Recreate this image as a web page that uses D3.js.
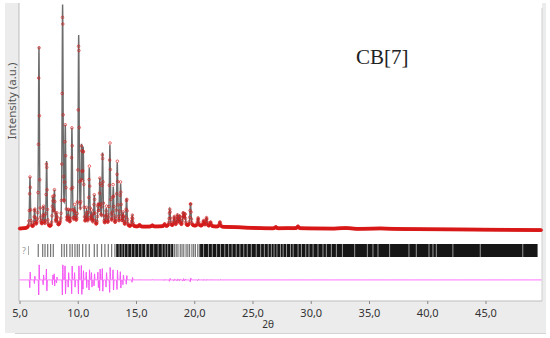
<!DOCTYPE html>
<html>
<head>
<meta charset="utf-8">
<script src="https://cdn.jsdelivr.net/npm/d3@7"></script>
<style>
  body { margin: 0; background: #fff; }
  svg { display: block; }
</style>
</head>
<body>
<svg id="chart" width="550" height="338"></svg>
<script>
// peaks: [2theta, height above background (counts), misfit amplitude for difference curve]
const peaks = [
  [5.9, 2100, 320], [6.3, 740, 150], [6.67, 7460, 620], [7.05, 820, 200],
  [7.33, 2720, -450], [7.85, 1200, 200], [8.0, 1480, -250], [8.2, 500, 120],
  [8.7, 9110, 620], [8.93, 4040, -580], [9.2, 600, 300], [9.5, 4040, 570],
  [9.75, 700, -300], [10.08, 7830, 580], [10.33, 3130, -600], [10.47, 3090, 380],
  [10.75, 600, -320], [10.99, 2390, 420], [11.2, 500, -300], [11.42, 1280, 250],
  [11.75, 800, -320], [11.9, 1900, 450], [12.13, 3010, -470], [12.45, 700, 300],
  [12.76, 3340, 520], [13.05, 1570, -420], [13.39, 2600, 400], [13.68, 1730, -340],
  [13.9, 500, 200], [14.19, 1150, 180], [14.68, 450, 100], [15.3, 80, 10],
  [16.4, 60, 10], [17.45, 100, 20], [17.9, 700, 60], [18.28, 380, 40],
  [18.55, 440, 40], [18.75, 400, 30], [19.05, 520, 50], [19.2, 480, 40],
  [19.68, 950, 80], [20.33, 330, 30], [20.8, 220, 20], [21.05, 350, 20],
  [21.4, 180, 10], [22.2, 200, 10], [27.0, 70, 0], [28.9, 90, 0]
];

// background level (counts) along 2theta
const background = [
  [5, 780], [6, 790], [8, 800], [10, 810], [12, 830], [14, 845], [15, 860],
  [17, 870], [19, 885], [20.5, 890], [21.5, 870], [23, 850], [25, 815], [26, 795],
  [27, 790], [28, 800], [30, 790], [32, 785], [33, 805], [34, 775], [36, 790],
  [38, 765], [40, 755], [44, 745], [47, 735], [49.8, 720]
];

// individual reflection ticks
const braggTicks = [
  6.61, 6.99, 7.19, 7.42, 7.67, 7.9, 8.62, 8.84, 9.05, 9.33, 9.53, 9.76, 9.96,
  10.13, 10.42, 10.7, 10.99, 11.42, 11.67, 12.05, 12.33, 12.62, 12.91, 13.19,
  18.3, 18.45, 18.6, 18.8, 18.95, 19.1, 19.3, 19.45, 19.6, 19.8, 19.95, 20.1,
  20.3, 20.45
];
// dense reflection region, drawn as solid bars
const braggBands = [[13.3, 18.2], [20.5, 49.47]];
const bandGaps = [
  13.55, 13.8, 14.02, 14.3, 14.62, 14.9, 15.22, 15.5, 15.82, 15.86, 16.15, 16.52,
  16.9, 17.25, 17.5, 17.72, 17.98,
  20.8, 21.22, 21.55, 21.92, 22.25, 22.62, 22.95, 23.25, 23.6, 23.92, 24.25,
  24.55, 24.9, 25.32, 25.7, 26.02, 26.35, 26.62, 26.85,
  27.1, 27.4, 27.63, 27.92, 28.26, 28.49, 28.91, 29.2, 29.57, 29.85, 30.2,
  30.62, 31.05, 31.34, 31.77, 32.2, 32.72, 33.77, 34.86, 35.34, 35.77, 36.77,
  38.43, 39.06, 40.15, 40.49, 40.78, 42.2, 44.55, 48.2
];

const xTicks = [5, 10, 15, 20, 25, 30, 35, 40, 45];
const diffOffset = -1330;

const svg = d3.select("#chart");
const plot = { left: 19, right: 542, bottom: 301 };

// frame / background panels
svg.append("rect").attr("x", 5).attr("y", 3).attr("width", 541).attr("height", 330).attr("fill", "#ececec");
svg.append("rect").attr("x", plot.left).attr("y", 0).attr("width", plot.right - plot.left).attr("height", plot.bottom).attr("fill", "#fff");
svg.append("line").attr("x1", plot.left).attr("x2", plot.left).attr("y1", 3).attr("y2", plot.bottom).attr("stroke", "#bdbdbd");
svg.append("line").attr("x1", plot.right).attr("x2", plot.right).attr("y1", 8).attr("y2", plot.bottom).attr("stroke", "#d0d0d0");
svg.append("line").attr("x1", plot.left).attr("x2", plot.right).attr("y1", plot.bottom).attr("y2", plot.bottom).attr("stroke", "#bdbdbd");
svg.append("line").attr("x1", 15).attr("x2", 546).attr("y1", 333.5).attr("y2", 333.5).attr("stroke", "#d4d4d4");

const x = d3.scaleLinear().domain([5, 49.85]).range([19.5, 542]);
const y = d3.scaleLinear().domain([-2200, 10000]).range([301, 5]);

const bgAt = d3.scaleLinear().domain(background.map(d => d[0])).range(background.map(d => d[1]));

const fwhm = t => 0.085 + 0.0015 * t;
const pv = (dx, w) => {
  const g = Math.exp(-4 * Math.LN2 * dx * dx / (w * w));
  const l = 1 / (1 + 4 * dx * dx / (w * w));
  return 0.55 * g + 0.45 * l;
};
const dpv = (dx, w) => {
  const u = dx / (w * 0.3);
  return 2.33 * u * Math.exp(-u * u);
};

const grid = d3.range(5, 49.8, 0.01);
const calc = grid.map(t => {
  let v = bgAt(t);
  peaks.forEach(p => { const dx = t - p[0]; if (Math.abs(dx) < 3) v += p[1] * pv(dx, fwhm(p[0])); });
  return [t, v];
});
const diff = grid.map(t => {
  let v = 0;
  peaks.forEach(p => { const dx = t - p[0]; if (Math.abs(dx) < 0.3) v += p[2] * dpv(dx, fwhm(p[0])); });
  return [t, v];
});
const obs = calc.map((d, i) => [d[0], d[1] + diff[i][1] * 0.5]);

const line = d3.line().x(d => x(d[0])).y(d => y(d[1]));

const g = svg.append("g");
// calculated (under the markers)
g.append("path").datum(calc).attr("d", line).attr("fill", "none").attr("stroke", "#333").attr("stroke-width", 1.4).attr("stroke-opacity", 0.72);
// observed: red markers
g.selectAll("circle.obs").data(obs.filter((d, i) => i % 3 === 0)).enter().append("circle")
  .attr("class", "obs").attr("cx", d => x(d[0])).attr("cy", d => y(d[1])).attr("r", 1.3)
  .attr("fill", "none").attr("stroke", "#d81818").attr("stroke-width", 0.9).attr("stroke-opacity", 0.7);

// difference
g.append("path").datum(diff).attr("d", d3.line().x(d => x(d[0])).y(d => y(d[1] + diffOffset)))
  .attr("fill", "none").attr("stroke", "#f455f4").attr("stroke-width", 1);

// reflection ticks
const tickTop = 244, tickBot = 257;
g.selectAll("line.bragg").data(braggTicks).enter().append("line")
  .attr("x1", d => x(d)).attr("x2", d => x(d)).attr("y1", tickTop).attr("y2", tickBot)
  .attr("stroke", "#000").attr("stroke-opacity", 0.55).attr("stroke-width", 1.2);
g.selectAll("rect.band").data(braggBands).enter().append("rect")
  .attr("x", d => x(d[0])).attr("width", d => x(d[1]) - x(d[0])).attr("y", tickTop).attr("height", tickBot - tickTop)
  .attr("fill", "#161616");
g.selectAll("line.gap").data(bandGaps).enter().append("line")
  .attr("x1", d => x(d)).attr("x2", d => x(d)).attr("y1", tickTop).attr("y2", tickBot)
  .attr("stroke", "#fff").attr("stroke-opacity", 0.7).attr("stroke-width", 0.8);
svg.append("text").attr("x", 22).attr("y", 254).text("?").attr("font-family", "Noto Sans").attr("font-size", 9).attr("fill", "#999");
svg.append("line").attr("x1", 28.5).attr("x2", 28.5).attr("y1", 246).attr("y2", 255).attr("stroke", "#aaa");

// x axis
const ax = svg.append("g").attr("transform", `translate(0,${plot.bottom})`)
  .call(d3.axisBottom(x).tickValues(xTicks).tickSize(3).tickFormat(d => d.toFixed(1).replace(".", ",")));
ax.select(".domain").remove();
ax.selectAll(".tick line").attr("stroke", "#888");
ax.selectAll("text").attr("font-family", "Noto Sans").attr("font-size", 11).attr("fill", "#333").attr("dy", "0.9em");

svg.append("text").attr("x", 268).attr("y", 328).attr("text-anchor", "middle")
  .attr("font-family", "Noto Sans").attr("font-size", 10).attr("fill", "#333").text("2θ");

svg.append("text").attr("transform", "translate(16,101) rotate(-90)").attr("text-anchor", "middle")
  .attr("font-family", "Noto Sans").attr("font-size", 11.5).attr("fill", "#555").text("Intensity (a.u.)");

svg.append("text").attr("x", 356).attr("y", 64).attr("font-family", "Liberation Serif")
  .attr("font-size", 21).attr("fill", "#222").text("CB[7]");
</script>
</body>
</html>
